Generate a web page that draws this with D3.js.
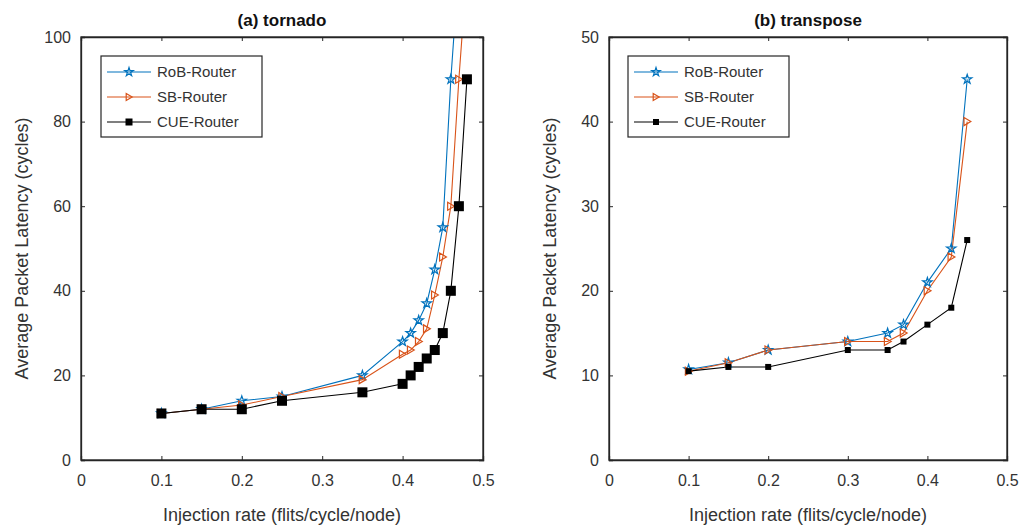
<!DOCTYPE html>
<html>
<head>
<meta charset="utf-8">
<script src="https://cdn.jsdelivr.net/npm/d3@7"></script>
<style>
  body { margin: 0; background: #fff; }
  text { font-family: "Liberation Sans", Arial, sans-serif; }
</style>
</head>
<body>
<div class="chart"></div>
<script>
// Latency vs injection rate, two panels (tornado / transpose)

// ---- data ----
var seriesNames = ["RoB-Router", "SB-Router", "CUE-Router"];

// (a) tornado
var tornadoRobX = [0.1, 0.15, 0.2, 0.25, 0.35, 0.4, 0.41, 0.42, 0.43, 0.44, 0.45, 0.46, 0.47];
var tornadoRobY = [11, 12, 14, 15, 20, 28, 30, 33, 37, 45, 55, 90, 117];
var tornadoSbX = [0.1, 0.15, 0.2, 0.25, 0.35, 0.4, 0.41, 0.42, 0.43, 0.44, 0.45, 0.46, 0.47, 0.48];
var tornadoSbY = [11, 12, 13, 15, 19, 25, 26, 28, 31, 39, 48, 60, 90, 116];
var tornadoCueX = [0.1, 0.15, 0.2, 0.25, 0.35, 0.4, 0.41, 0.42, 0.43, 0.44, 0.45, 0.46, 0.47, 0.48];
var tornadoCueY = [11, 12, 12, 14, 16, 18, 20, 22, 24, 26, 30, 40, 60, 90];

// (b) transpose
var transposeX = [0.1, 0.15, 0.2, 0.3, 0.35, 0.37, 0.4, 0.43, 0.45];
var transposeRobY = [10.7, 11.5, 13, 14, 15, 16, 21, 25, 45];
var transposeSbY = [10.5, 11.5, 13, 14, 14, 15, 20, 24, 40];
var transposeCueY = [10.5, 11, 11, 13, 13, 14, 16, 18, 26];

var xTicks = [0, 0.1, 0.2, 0.3, 0.4, 0.5];
var tornadoYTicks = [0, 20, 40, 60, 80, 100];
var transposeYTicks = [0, 10, 20, 30, 40, 50];

var colors = ["#0072BD", "#D95319", "#000000"];
var axisColor = "#262626";

var svgWidth = 1023;
var svgHeight = 528;

var svg = d3.select(".chart")
  .append("svg")
  .attr("width", svgWidth)
  .attr("height", svgHeight);

function zip(xs, ys) {
  return xs.map(function(x, i) { return { x: x, y: ys[i] }; });
}

// marker drawing
function drawMarker(g, kind, size, color) {
  if (kind === "star") {
    g.append("path")
      .attr("d", d3.symbol().type(d3.symbolStar).size(size * size * 0.9)())
      .attr("fill", "none")
      .attr("stroke", color)
      .attr("stroke-width", 1.2);
  } else if (kind === "tri") {
    var s = size / 2;
    g.append("path")
      .attr("d", "M" + (-s * 0.8) + "," + (-s) + "L" + (s * 0.9) + ",0L" + (-s * 0.8) + "," + s + "Z")
      .attr("fill", "none")
      .attr("stroke", color)
      .attr("stroke-width", 1.2);
  } else {
    g.append("rect")
      .attr("x", -size / 2)
      .attr("y", -size / 2)
      .attr("width", size)
      .attr("height", size)
      .attr("fill", color);
  }
}

function drawPanel(opt) {
  var left = opt.left, top = 37, w = opt.width, h = 423;
  var g = svg.append("g").attr("transform", "translate(" + left + "," + top + ")");

  var x = d3.scaleLinear().domain([0, 0.5]).range([0, w]);
  var y = d3.scaleLinear().domain([0, opt.yMax]).range([h, 0]);

  // clip
  g.append("clipPath").attr("id", opt.id + "-clip")
    .append("rect").attr("width", w).attr("height", h);

  var plot = g.append("g").attr("clip-path", "url(#" + opt.id + "-clip)");

  var line = d3.line()
    .x(function(d) { return x(d.x); })
    .y(function(d) { return y(d.y); });

  opt.series.forEach(function(s, i) {
    plot.append("path")
      .datum(s.data)
      .attr("d", line)
      .attr("fill", "none")
      .attr("stroke", colors[i])
      .attr("stroke-width", 1.1);
  });
  opt.series.forEach(function(s, i) {
    s.data.forEach(function(d) {
      if (d.y > opt.yMax) return;
      var m = plot.append("g").attr("transform", "translate(" + x(d.x) + "," + y(d.y) + ")");
      drawMarker(m, s.marker, s.size, colors[i]);
    });
  });

  // axes (box with inward ticks)
  var xAxisB = d3.axisBottom(x).tickValues(xTicks).tickSize(-4).tickPadding(15).tickFormat(d3.format("~g"));
  var xAxisT = d3.axisTop(x).tickValues(xTicks).tickSize(-4).tickFormat("");
  var yAxisL = d3.axisLeft(y).tickValues(opt.yTicks).tickSize(-4).tickPadding(10);
  var yAxisR = d3.axisRight(y).tickValues(opt.yTicks).tickSize(-4).tickFormat("");

  var axes = [
    g.append("g").attr("transform", "translate(0," + h + ")").call(xAxisB),
    g.append("g").call(xAxisT),
    g.append("g").call(yAxisL),
    g.append("g").attr("transform", "translate(" + w + ",0)").call(yAxisR)
  ];
  axes.forEach(function(a) {
    a.selectAll(".domain").attr("stroke", axisColor).attr("stroke-width", 1.3);
    a.selectAll(".tick line").attr("stroke", axisColor);
    a.selectAll("text").attr("fill", "#333").style("font-size", "16px");
  });
  g.append("rect").attr("width", w).attr("height", h)
    .attr("fill", "none").attr("stroke", axisColor).attr("stroke-width", 1.3);

  // title
  g.append("text")
    .attr("x", w / 2).attr("y", -11)
    .attr("text-anchor", "middle")
    .style("font-size", "17px").style("font-weight", "bold")
    .attr("fill", "#111")
    .text(opt.title);

  // axis labels
  g.append("text")
    .attr("x", w / 2).attr("y", h + 61)
    .attr("text-anchor", "middle")
    .style("font-size", "18px")
    .attr("fill", "#333")
    .text("Injection rate (flits/cycle/node)");

  g.append("text")
    .attr("transform", "rotate(-90)")
    .attr("x", -h / 2).attr("y", -53)
    .attr("text-anchor", "middle")
    .style("font-size", "18px")
    .attr("fill", "#333")
    .text("Average Packet Latency (cycles)");

  // legend
  var lg = g.append("g").attr("transform", "translate(" + opt.legendX + ",19)");
  lg.append("rect").attr("width", 161).attr("height", 81)
    .attr("fill", "#fff").attr("stroke", axisColor).attr("stroke-width", 1.2);
  opt.series.forEach(function(s, i) {
    var ly = 16 + i * 25;
    lg.append("line").attr("x1", 6).attr("x2", 50).attr("y1", ly).attr("y2", ly)
      .attr("stroke", colors[i]).attr("stroke-width", 1.1);
    var m = lg.append("g").attr("transform", "translate(28," + ly + ")");
    drawMarker(m, s.marker, s.legendSize, colors[i]);
    lg.append("text").attr("x", 56).attr("y", ly + 5)
      .style("font-size", "15px").attr("fill", "#333")
      .text(seriesNames[i]);
  });
}

drawPanel({
  id: "tornado",
  left: 81,
  width: 402,
  yMax: 100,
  yTicks: tornadoYTicks,
  title: "(a) tornado",
  legendX: 20,
  series: [
    { data: zip(tornadoRobX, tornadoRobY), marker: "star", size: 5.5, legendSize: 5 },
    { data: zip(tornadoSbX, tornadoSbY), marker: "tri", size: 8, legendSize: 7 },
    { data: zip(tornadoCueX, tornadoCueY), marker: "sq", size: 10, legendSize: 7 }
  ]
});

drawPanel({
  id: "transpose",
  left: 609,
  width: 398,
  yMax: 50,
  yTicks: transposeYTicks,
  title: "(b) transpose",
  legendX: 19,
  series: [
    { data: zip(transposeX, transposeRobY), marker: "star", size: 5.5, legendSize: 5 },
    { data: zip(transposeX, transposeSbY), marker: "tri", size: 8, legendSize: 7 },
    { data: zip(transposeX, transposeCueY), marker: "sq", size: 6, legendSize: 6 }
  ]
});
</script>
</body>
</html>
